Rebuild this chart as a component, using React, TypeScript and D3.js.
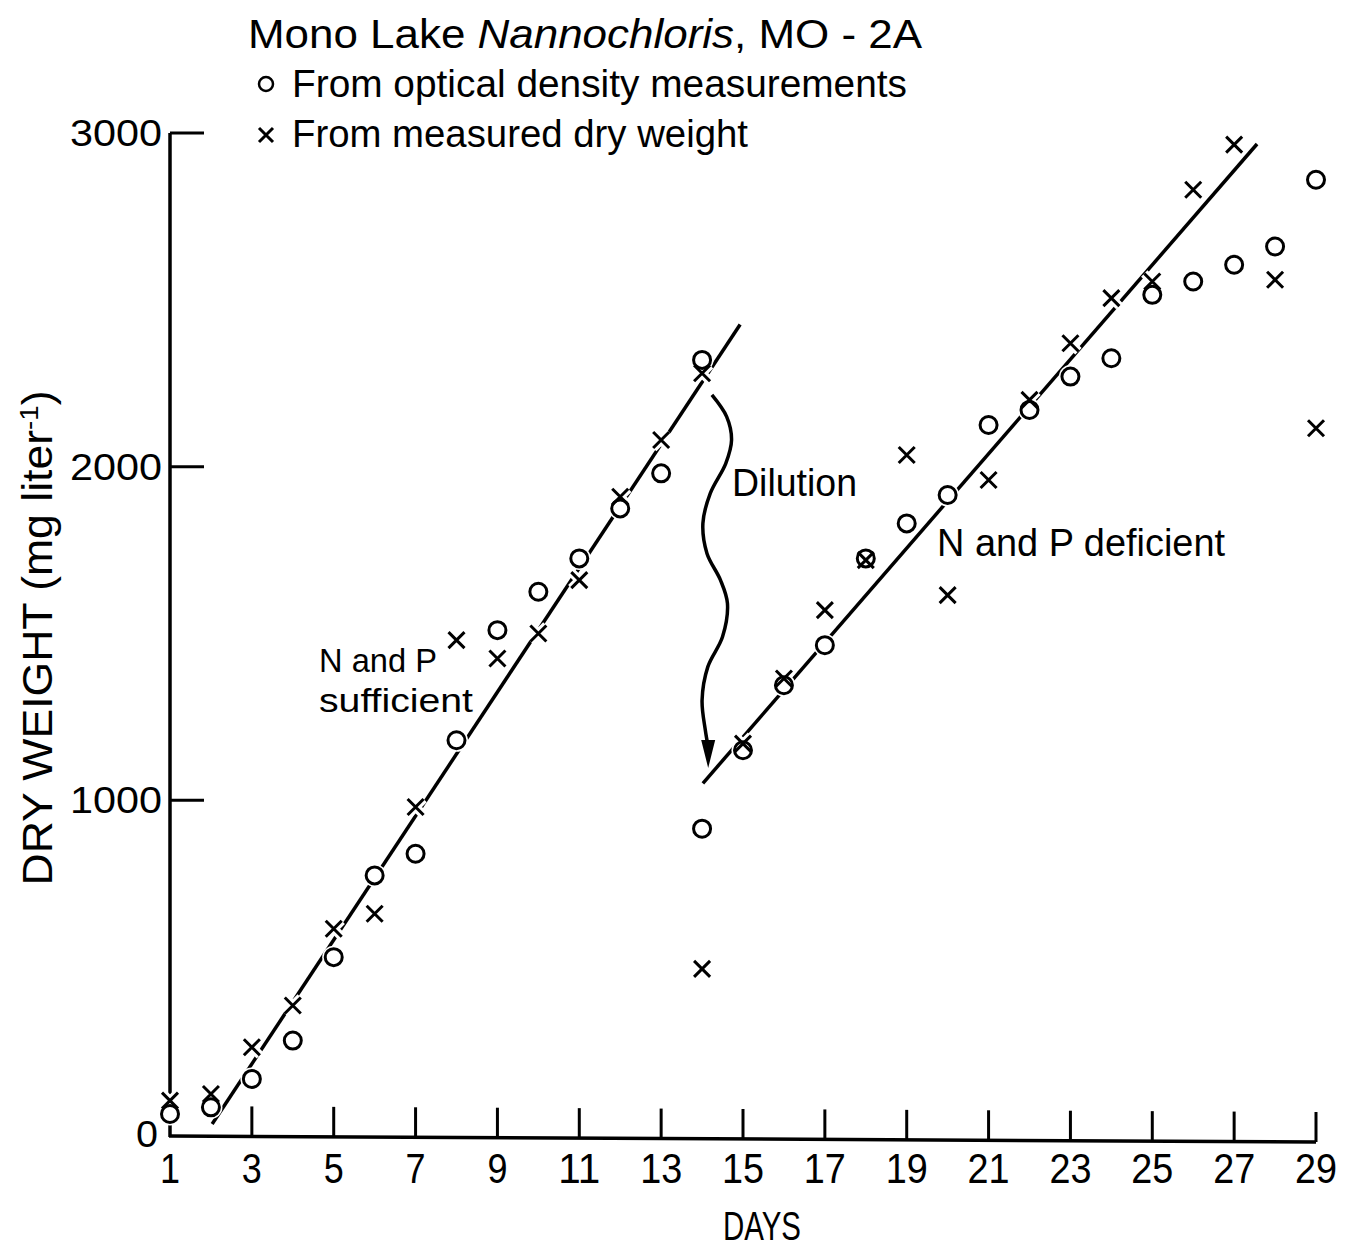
import React from "react";
import * as d3 from "d3";

const W = 1361;
const H = 1249;

// Days (day 14 appears twice: before and after dilution)
const odDays = [1,2,3,4,5,6,7,8,9,10,11,12,13,14,14,15,16,17,18,19,20,21,22,23,24,25,26,27,28,29];
const odValues = [60,80,165,280,530,775,840,1180,1510,1625,1725,1875,1980,2320,915,1150,1345,1465,1725,1830,1915,2125,2170,2270,2325,2515,2555,2605,2660,2860];

const dwDays = [1,2,3,4,5,6,7,8,9,10,11,12,13,14,14,15,16,17,18,19,20,21,22,23,24,25,26,27,28,29];
const dwValues = [100,120,260,385,615,660,980,1480,1425,1500,1660,1910,2080,2280,495,1170,1365,1570,1720,2035,1615,1960,2200,2370,2505,2555,2830,2965,2560,2115];

// Fitted lines (endpoints in data units)
const fitSufficientDays = [2.03, 14.93];
const fitSufficientValues = [30, 2426];
const fitDeficientDays = [14.02, 27.56];
const fitDeficientValues = [1051, 2967];

// Dilution arrow path (data units)
const arrowDays = [14.24, 14.6, 14.72, 14.58, 14.2, 14.02, 14.12, 14.45, 14.62, 14.5, 14.14, 14.0, 14.08, 14.15];
const arrowValues = [2215, 2150, 2080, 2010, 1920, 1830, 1740, 1660, 1590, 1490, 1400, 1300, 1210, 1160];
const arrowTip = [14.15, 1097];

const xTicks = [1,3,5,7,9,11,13,15,17,19,21,23,25,27,29];
const yTicks = [0, 1000, 2000, 3000];

const FONT = "'Liberation Sans', Arial, sans-serif";

export default function App() {
  const x = d3.scaleLinear().domain([1, 29]).range([170, 1316]);
  const y = d3.scaleLinear().domain([0, 3000]).range([1134, 133]);

  const line = d3.line<[number, number]>().x(d => x(d[0])).y(d => y(d[1]));
  const curve = d3.line<[number, number]>().x(d => x(d[0])).y(d => y(d[1])).curve(d3.curveCatmullRom.alpha(0.5));

  const fitA: [number, number][] = fitSufficientDays.map((d, i) => [d, fitSufficientValues[i]]);
  const fitB: [number, number][] = fitDeficientDays.map((d, i) => [d, fitDeficientValues[i]]);
  const arrowPts: [number, number][] = arrowDays.map((d, i) => [d, arrowValues[i]]);

  const od = odDays.map((d, i) => ({ d, v: odValues[i] }));
  const dw = dwDays.map((d, i) => ({ d, v: dwValues[i] }));

  const r = 8.5;
  const c = 8;
  const crossPath = (cx: number, cy: number) => `M${cx - c},${cy - c}L${cx + c},${cy + c}M${cx - c},${cy + c}L${cx + c},${cy - c}`;

  const x0 = x(1);
  const yBase = y(0) + 2;
  const tipX = x(arrowTip[0]);
  const tipY = y(arrowTip[1]);

  return (
    <svg width={W} height={H} style={{ position: "absolute", left: 0, top: 0, background: "#fff" }} fontFamily={FONT}>
      <rect x={0} y={0} width={W} height={H} fill="#fff" />
      {/* Title and legend */}
      <text x={248} y={48} fontSize={40} fill="#000" textLength={674} lengthAdjust="spacingAndGlyphs">
        Mono Lake <tspan fontStyle="italic">Nannochloris</tspan>, MO - 2A
      </text>
      <circle cx={266} cy={84} r={7} fill="none" stroke="#000" strokeWidth={2.5} />
      <text x={292} y={97} fontSize={38} fill="#000" textLength={615} lengthAdjust="spacingAndGlyphs">From optical density measurements</text>
      <path d={`M${259},${128}L${273},${142}M${259},${142}L${273},${128}`} stroke="#000" strokeWidth={3} />
      <text x={292} y={147} fontSize={38} fill="#000" textLength={456} lengthAdjust="spacingAndGlyphs">From measured dry weight</text>

      {/* Axes */}
      <line x1={x0} y1={y(3000)} x2={x0} y2={yBase + 1} stroke="#000" strokeWidth={3.5} />
      <line x1={x0 - 1} y1={yBase} x2={x(29)} y2={yBase + 6} stroke="#000" strokeWidth={3.5} />
      {xTicks.filter(t => t > 1).map(t => {
        const by = yBase + 6 * (x(t) - x0) / (x(29) - x0);
        return <line key={"xt" + t} x1={x(t)} y1={by} x2={x(t)} y2={by - 30} stroke="#000" strokeWidth={3} />;
      })}
      {xTicks.map(t => (
        <text key={"xl" + t} x={x(t)} y={1183} fontSize={42} textAnchor="middle" fill="#000"
          textLength={t < 10 ? 20 : 42} lengthAdjust="spacingAndGlyphs">{t}</text>
      ))}
      {yTicks.filter(t => t > 0).map(t => (
        <line key={"yt" + t} x1={x0} y1={y(t)} x2={x0 + 34} y2={y(t)} stroke="#000" strokeWidth={3} />
      ))}
      {yTicks.map(t => (
        <text key={"yl" + t} x={t === 0 ? 158 : 162} y={y(t) + 13} fontSize={36} textAnchor="end" fill="#000"
          textLength={t === 0 ? 22 : 92} lengthAdjust="spacingAndGlyphs">{t}</text>
      ))}
      <text x={762} y={1240} fontSize={40} textAnchor="middle" fill="#000" textLength={78} lengthAdjust="spacingAndGlyphs">DAYS</text>
      <text transform={`translate(52,638) rotate(-90)`} fontSize={42} textAnchor="middle" fill="#000"
        textLength={495} lengthAdjust="spacingAndGlyphs">
        DRY WEIGHT (mg liter<tspan fontSize={26} dy={-14}>-1</tspan><tspan dy={14}>)</tspan>
      </text>

      {/* Fit lines */}
      <path d={line(fitA) || ""} fill="none" stroke="#000" strokeWidth={3.5} />
      <path d={line(fitB) || ""} fill="none" stroke="#000" strokeWidth={3.5} />

      {/* Dilution arrow */}
      <path d={curve(arrowPts) || ""} fill="none" stroke="#000" strokeWidth={3.5} />
      <path d={`M${tipX},${tipY}L${tipX - 7},${tipY - 28}L${tipX + 7},${tipY - 28}Z`} fill="#000" />

      {/* Marker halos */}
      {od.map((p, i) => (
        <circle key={"oh" + i} cx={x(p.d)} cy={y(p.v)} r={r + 3} fill="#fff" stroke="none" />
      ))}
      {dw.map((p, i) => (
        <path key={"dh" + i} d={crossPath(x(p.d), y(p.v))} stroke="#fff" strokeWidth={9} />
      ))}

      {/* Markers */}
      {od.map((p, i) => (
        <circle key={"o" + i} cx={x(p.d)} cy={y(p.v)} r={r} fill="none" stroke="#000" strokeWidth={3} />
      ))}
      {dw.map((p, i) => (
        <path key={"d" + i} d={crossPath(x(p.d), y(p.v))} stroke="#000" strokeWidth={3} />
      ))}

      {/* Annotations */}
      <text x={319} y={672} fontSize={34} fill="#000" textLength={118} lengthAdjust="spacingAndGlyphs">N and P</text>
      <text x={319} y={712} fontSize={34} fill="#000" textLength={154} lengthAdjust="spacingAndGlyphs">sufficient</text>
      <text x={732} y={496} fontSize={38} fill="#000" textLength={125} lengthAdjust="spacingAndGlyphs">Dilution</text>
      <text x={937} y={556} fontSize={38} fill="#000" textLength={288} lengthAdjust="spacingAndGlyphs">N and P deficient</text>
    </svg>
  );
}
